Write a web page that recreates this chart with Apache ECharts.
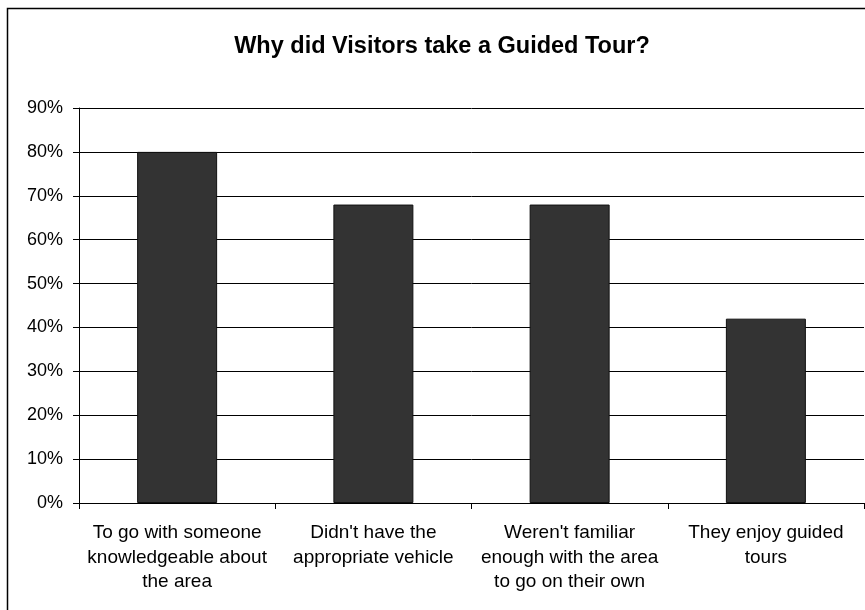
<!DOCTYPE html>
<html>
<head>
<meta charset="utf-8">
<title>Why did Visitors take a Guided Tour?</title>
<script src="https://cdn.jsdelivr.net/npm/echarts@6/dist/echarts.min.js"></script>
<style>
  html, body { margin: 0; padding: 0; background: #ffffff; }
  #chart { width: 865px; height: 610px; }
</style>
</head>
<body>
<div id="chart"></div>
<script>
// Reasons given for taking a guided tour (share of visitors, %)
const chartTitle = 'Why did Visitors take a Guided Tour?';
const reasons = [
  'To go with someone\nknowledgeable about\nthe area',
  "Didn't have the\nappropriate vehicle",
  "Weren't familiar\nenough with the area\nto go on their own",
  'They enjoy guided\ntours'
];
const shares = [80, 68, 68, 42];
const yMin = 0;
const yMax = 90;
const yStep = 10;

const FONT = '"Liberation Sans", Arial, sans-serif';

const chart = echarts.init(document.getElementById('chart'), null, { renderer: 'canvas' });

chart.setOption({
  backgroundColor: '#ffffff',
  animation: false,
  title: {
    text: chartTitle,
    left: 437,
    top: 30,
    textAlign: 'center',
    textStyle: {
      fontFamily: FONT,
      fontSize: 23.5,
      fontWeight: 'bold',
      color: '#000000'
    }
  },
  graphic: [
    {
      type: 'rect',
      shape: { x: 7.5, y: 8.5, width: 900, height: 700 },
      style: { fill: 'none', stroke: '#000000', lineWidth: 1.5 },
      silent: true,
      z: 100
    }
  ],
  grid: {
    left: 79,
    top: 108,
    right: 1,
    bottom: 107,
    containLabel: false
  },
  xAxis: {
    type: 'category',
    data: reasons,
    boundaryGap: true,
    axisLine: { show: true, lineStyle: { color: '#000000', width: 1 } },
    axisTick: { show: true, length: 6, alignWithLabel: false, lineStyle: { color: '#000000' } },
    axisLabel: {
      interval: 0,
      margin: 18,
      fontFamily: FONT,
      fontSize: 19,
      lineHeight: 24.5,
      color: '#000000',
      align: 'center'
    },
    splitLine: { show: false }
  },
  yAxis: {
    type: 'value',
    min: yMin,
    max: yMax,
    interval: yStep,
    axisLine: { show: true, lineStyle: { color: '#000000', width: 1 } },
    axisTick: { show: true, length: 6, lineStyle: { color: '#000000' } },
    axisLabel: {
      formatter: '{value}%',
      margin: 16,
      fontFamily: FONT,
      fontSize: 18,
      color: '#000000'
    },
    splitLine: { show: true, lineStyle: { color: '#000000', width: 1 } }
  },
  series: [
    {
      type: 'bar',
      data: shares,
      barWidth: 80,
      itemStyle: {
        color: '#333333',
        borderColor: '#111111',
        borderWidth: 1
      },
      label: { show: false }
    }
  ]
});
</script>
</body>
</html>
